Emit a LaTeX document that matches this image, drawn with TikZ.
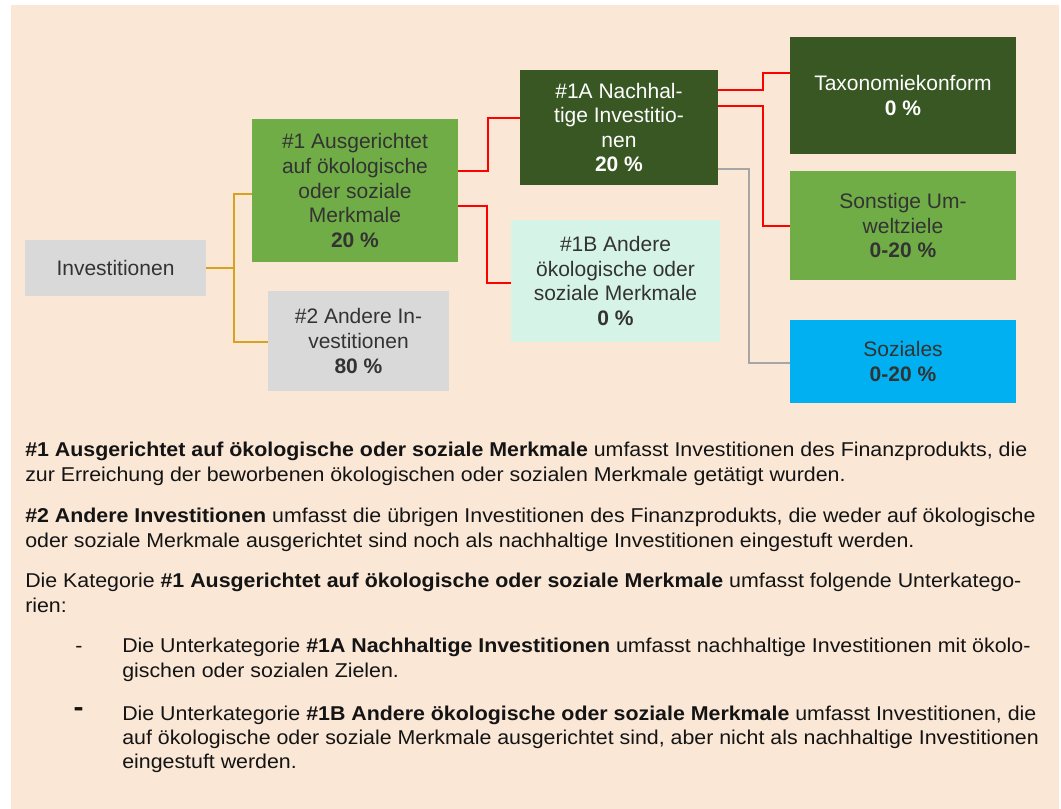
\documentclass[tikz,border=0pt]{standalone}
\usepackage{fontspec}
\setmainfont{Liberation Sans}
\newfontfamily\parafont{Liberation Sans}[FakeStretch=1.068]
\definecolor{bg}{RGB}{250,231,214}
\definecolor{lgray}{RGB}{217,217,217}
\definecolor{mgreen}{RGB}{112,173,71}
\definecolor{dgreen}{RGB}{56,87,35}
\definecolor{mint}{RGB}{213,243,231}
\definecolor{sky}{RGB}{0,176,240}
\definecolor{gold}{RGB}{214,162,32}
\definecolor{boxtext}{RGB}{51,51,51}
\definecolor{conngray}{RGB}{166,166,166}
\definecolor{paratext}{RGB}{20,20,20}
\def\mkbox#1#2#3#4#5#6#7{%
  \node[box,#6,minimum width={(#4-#2)*0.75pt},minimum height={(#5-#3)*0.75pt}]
    (#1) at ({(#2+#4)/2},{(#3+#5)/2}) {#7};}
\begin{document}
\begin{tikzpicture}[x=0.75pt,y=-0.75pt,
  box/.style={rectangle,inner sep=0pt,align=center,text=boxtext,
    font=\fontsize{15.75pt}{18.4pt}\selectfont},
  grayfill/.style={fill=lgray},
  greenfill/.style={fill=mgreen},
  darkfill/.style={fill=dgreen,text=white},
  mintfill/.style={fill=mint},
  skyfill/.style={fill=sky},
  oline/.style={draw=gold,line width=1.1pt},
  rline/.style={draw=red,line width=1.1pt},
  gline/.style={draw=conngray,line width=1.1pt},
  para/.style={anchor=base west,inner sep=0pt,text=paratext,
    font=\parafont\fontsize{15pt}{18pt}\selectfont}]
\useasboundingbox (0,0) rectangle (1061,809);
\fill[white] (0,0) rectangle (1061,809);
\fill[bg] (11,5) rectangle (1059,809);

% boxes
\mkbox{inv}{25}{240}{206}{296}{grayfill}{Investitionen}
\mkbox{a1}{252}{119}{458}{262}{greenfill}{\#1 Ausgerichtet\\auf ökologische\\oder soziale\\Merkmale\\\textbf{20 \%}}
\mkbox{b2}{268}{291}{449}{391}{grayfill}{\#2 Andere In-\\vestitionen\\\textbf{80 \%}}
\mkbox{n1a}{520}{70}{718}{185}{darkfill}{\#1A Nachhal-\\tige Investitio-\\nen\\\textbf{20 \%}}
\mkbox{n1b}{511}{220}{720}{342}{mintfill}{\#1B Andere\\ökologische oder\\soziale Merkmale\\\textbf{0 \%}}
\mkbox{tax}{790}{37}{1016}{154}{darkfill}{Taxonomiekonform\\\textbf{0 \%}}
\mkbox{son}{790}{171}{1016}{280}{greenfill}{Sonstige Um-\\weltziele\\\textbf{0-20 \%}}
\mkbox{soz}{790}{320}{1016}{403}{skyfill}{Soziales\\\textbf{0-20 \%}}

% connectors
\coordinate (oj1) at (234,194);
\coordinate (oj2) at (234,342);
\draw[oline] (inv.east) -| (oj1) -- (a1.west |- oj1);
\draw[oline] (inv.east) -| (oj2) -- (b2.west |- oj2);

\coordinate (r1a) at (488,171);
\coordinate (r1b) at (488,118);
\draw[rline] (a1.east |- r1a) -- (r1a) -- (r1b) -- (n1a.west |- r1b);
\coordinate (r2a) at (487,206);
\coordinate (r2b) at (487,283);
\draw[rline] (a1.east |- r2a) -- (r2a) -- (r2b) -- (n1b.west |- r2b);

\coordinate (r3a) at (763,90);
\coordinate (r3b) at (763,73);
\draw[rline] (n1a.east |- r3a) -- (r3a) -- (r3b) -- (tax.west |- r3b);
\coordinate (r4a) at (763,106);
\coordinate (r4b) at (763,226);
\draw[rline] (n1a.east |- r4a) -- (r4a) -- (r4b) -- (son.west |- r4b);
\coordinate (g1a) at (749,169);
\coordinate (g1b) at (749,363);
\draw[gline] (n1a.east |- g1a) -- (g1a) -- (g1b) -- (soz.west |- g1b);

% text
\node[para] (p1a) at (25,456) {\textbf{\#1 Ausgerichtet auf ökologische oder soziale Merkmale} umfasst Investitionen des Finanzprodukts, die};
\node[para] (p1b) at (25,481) {zur Erreichung der beworbenen ökologischen oder sozialen Merkmale getätigt wurden.};
\node[para] (p2a) at (25,522) {\textbf{\#2 Andere Investitionen} umfasst die übrigen Investitionen des Finanzprodukts, die weder auf ökologische};
\node[para] (p2b) at (25,547) {oder soziale Merkmale ausgerichtet sind noch als nachhaltige Investitionen eingestuft werden.};
\node[para] (p3a) at (25,587) {Die Kategorie \textbf{\#1 Ausgerichtet auf ökologische oder soziale Merkmale} umfasst folgende Unterkatego-};
\node[para] (p3b) at (25,612) {rien:};
\node[para] (d1) at (75,652) {-};
\node[para] (q1a) at (122,652) {Die Unterkategorie \textbf{\#1A Nachhaltige Investitionen} umfasst nachhaltige Investitionen mit ökolo-};
\node[para] (q1b) at (122,677) {gischen oder sozialen Zielen.};
\node[anchor=center,inner sep=0pt,text=paratext,font=\parafont\fontsize{21pt}{21pt}\selectfont\bfseries] (d2) at (78.5,712) {-};
\node[para] (q2a) at (122,720) {Die Unterkategorie \textbf{\#1B Andere ökologische oder soziale Merkmale} umfasst Investitionen, die};
\node[para] (q2b) at (122,744) {auf ökologische oder soziale Merkmale ausgerichtet sind, aber nicht als nachhaltige Investitionen};
\node[para] (q2c) at (122,768) {eingestuft werden.};
\end{tikzpicture}
\end{document}
